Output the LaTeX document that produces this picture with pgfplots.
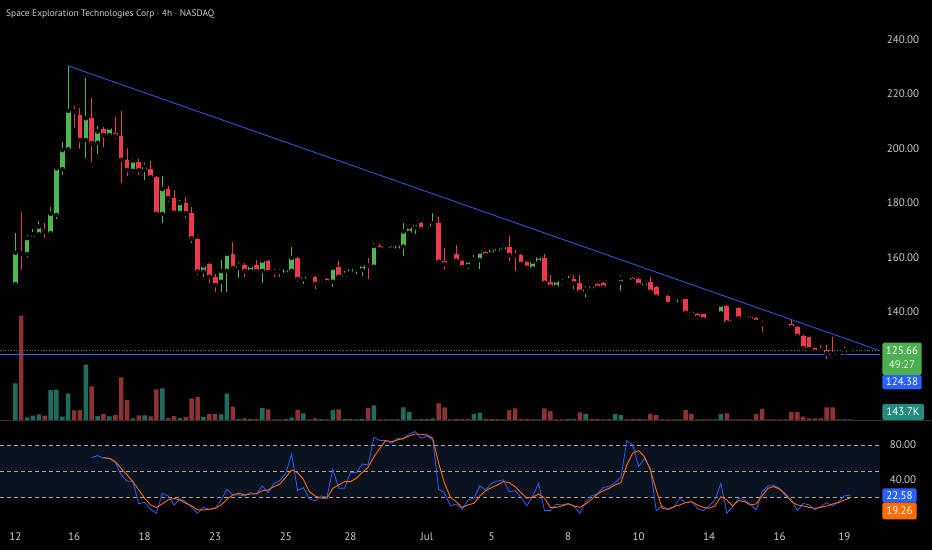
\documentclass[border=0pt]{standalone}
\usepackage{pgfplots}
\pgfplotsset{compat=1.18}
\usepackage{pgfplotstable}
\usepackage{fontspec}
\setmainfont{PT Sans}
\definecolor{upc}{RGB}{80,182,80}
\definecolor{dnc}{RGB}{238,58,72}
\definecolor{vupc}{RGB}{30,108,94}
\definecolor{vdnc}{RGB}{140,50,50}
\definecolor{trendc}{RGB}{45,85,215}
\definecolor{tickc}{RGB}{205,205,205}
\definecolor{bandc}{RGB}{11,19,32}
\definecolor{kc}{RGB}{41,98,255}
\definecolor{dc}{RGB}{255,109,0}
\definecolor{gbox}{RGB}{76,175,80}
\definecolor{bbox}{RGB}{41,98,255}
\definecolor{tbox}{RGB}{34,140,125}

\pgfplotstableread{
i o h l c
0 150.1 169.0 149.8 161.6
2 161.2 168.1 160.2 167.0
3 167.0 170.2 166.5 168.5
4 168.4 173.2 168.0 171.2
6 168.8 178.5 168.5 175.9
7 175.5 193.2 173.9 192.6
8 192.3 202.4 190.2 199.3
9 199.6 230.2 199.3 213.7
12 203.0 225.6 196.3 211.0
14 202.0 208.3 197.8 206.1
16 204.8 208.1 204.0 207.5
20 191.7 196.3 190.8 195.4
22 192.0 194.5 188.3 193.2
25 175.9 189.8 172.4 185.0
28 176.3 181.0 176.0 179.8
32 154.7 157.8 152.6 156.9
35 151.0 159.0 147.3 154.9
36 155.0 161.5 147.3 161.2
38 156.1 158.3 152.2 156.9
40 154.9 157.2 154.3 156.8
42 155.0 159.5 150.6 158.7
46 154.1 156.2 153.8 155.7
47 155.0 163.6 154.6 159.8
49 151.9 154.0 150.0 153.1
52 150.2 152.0 149.8 151.6
54 151.0 156.5 149.0 156.1
56 152.6 155.0 152.2 153.5
57 154.5 156.5 154.0 155.9
58 155.5 156.3 154.0 155.8
59 155.3 157.5 153.0 157.1
61 156.5 165.2 156.0 164.1
63 163.4 164.0 162.8 163.7
65 162.9 165.2 162.6 164.5
66 163.9 172.4 160.5 169.4
67 169.0 171.8 168.6 171.0
68 170.8 173.0 168.5 172.4
70 170.3 171.8 170.0 171.5
71 171.2 176.1 170.8 172.4
74 157.9 158.6 157.4 158.2
77 156.8 159.0 155.8 158.7
78 158.0 160.8 157.7 159.3
79 159.0 162.3 155.5 162.0
81 161.4 163.4 161.0 163.0
82 162.0 163.7 161.6 163.3
83 162.6 165.0 162.3 163.9
88 155.9 158.7 155.5 158.3
89 158.3 161.0 158.0 160.2
92 149.2 151.8 148.9 151.4
94 150.6 153.0 150.3 151.6
97 147.3 149.5 145.3 148.3
98 148.3 150.0 148.0 149.4
101 149.8 151.0 149.5 150.6
103 150.6 153.5 147.6 152.3
104 152.4 153.0 152.0 152.7
107 149.4 151.0 149.0 150.6
110 145.5 146.5 145.2 146.1
112 143.3 144.0 143.0 143.7
113 143.3 145.5 143.0 144.5
118 137.6 138.7 137.3 138.4
119 138.8 139.9 138.5 139.6
120 139.4 143.3 139.1 142.5
122 136.3 137.5 136.0 137.2
128 135.8 136.3 135.5 136.1
129 136.0 136.5 135.8 136.3
140 124.1 124.8 123.6 124.4
141 125.0 127.0 124.7 125.9
142 125.3 126.2 125.2 125.66
}\upcandles

\pgfplotstableread{
i o h l c
1 161.8 176.7 155.3 161.4
5 170.0 172.7 167.2 169.4
10 214.0 215.5 207.3 213.5
11 212.2 214.6 199.6 203.0
13 211.0 218.3 195.0 201.8
15 207.0 207.9 200.3 204.8
17 205.5 211.3 203.5 204.5
18 204.5 213.8 187.1 195.7
19 195.7 200.0 189.8 192.0
21 194.8 195.9 190.2 192.0
23 192.4 195.4 188.5 189.3
24 189.3 189.8 175.1 175.9
26 185.0 186.0 180.3 181.6
27 181.8 184.7 175.5 176.3
29 180.0 182.0 174.3 176.1
30 176.1 178.5 165.3 166.9
31 166.7 167.0 153.5 154.7
33 157.4 158.0 150.4 152.8
34 152.8 153.8 147.3 149.8
37 161.2 165.5 155.3 155.9
39 157.1 157.8 152.9 154.9
41 157.1 159.0 154.5 154.9
43 158.7 159.0 154.0 154.5
44 154.9 155.5 152.8 154.6
45 154.9 155.5 152.8 154.6
48 159.8 160.2 151.0 152.0
50 153.2 153.5 152.3 152.9
51 152.8 153.2 148.2 150.2
53 151.9 152.3 150.3 150.8
55 156.3 158.6 151.9 152.8
60 157.3 159.6 151.9 156.9
62 164.1 165.0 162.5 162.9
64 163.6 164.0 162.5 162.9
69 172.4 172.8 169.8 170.2
72 172.4 174.6 158.0 158.3
73 158.7 163.3 155.8 157.5
75 161.2 164.5 158.3 158.7
76 158.7 159.0 155.2 156.3
80 162.0 162.4 160.4 160.8
84 163.6 167.8 158.5 160.8
85 161.0 162.6 155.0 160.7
86 160.8 161.2 157.0 157.5
87 158.3 158.6 155.7 156.1
90 159.8 161.2 150.3 150.6
91 151.0 153.5 148.8 149.2
93 151.2 152.0 149.8 150.9
95 151.9 153.4 148.2 150.4
96 150.6 153.4 147.0 147.3
99 150.2 150.6 148.5 148.8
100 150.4 150.8 148.6 148.9
102 150.6 151.0 149.9 150.2
105 152.3 152.6 151.0 151.4
106 151.9 152.3 149.5 149.8
108 151.0 152.8 147.0 147.3
109 148.9 149.3 145.2 145.5
111 145.7 146.0 142.5 142.8
114 144.5 144.8 139.3 139.6
115 140.0 140.4 138.9 139.2
116 139.2 139.5 137.6 137.9
117 139.0 139.3 136.9 137.2
121 142.1 142.5 135.8 136.0
123 141.2 141.6 137.3 137.6
124 138.0 138.3 137.5 137.7
125 138.1 138.5 136.9 137.2
126 137.6 138.0 136.0 136.3
127 136.3 136.6 132.7 135.5
130 136.4 136.7 135.9 136.1
131 136.0 136.3 135.4 135.7
132 135.4 136.9 134.0 134.3
133 134.5 134.8 130.8 131.1
134 131.1 131.4 126.3 126.6
135 130.6 130.9 125.9 126.2
136 126.6 126.9 125.0 125.3
137 126.0 127.8 124.7 125.7
138 125.9 127.8 122.5 124.7
139 124.7 130.8 123.5 124.4
}\dncandles

\pgfplotstableread{
i v
0 3670
2 270
3 430
4 570
6 3000
7 3030
8 330
9 2630
12 5530
14 400
16 370
20 170
22 470
25 3170
28 200
32 300
35 570
36 2630
38 100
40 100
42 1200
46 100
47 230
49 670
52 100
54 1000
56 100
57 100
58 70
59 100
61 1470
63 70
65 70
66 1270
67 800
68 70
70 100
71 170
74 70
78 600
79 730
89 70
94 100
95 100
97 600
101 70
102 600
103 500
107 70
119 70
120 600
141 70
142 70
}\volup

\pgfplotstableread{
i v
1 10430
5 430
10 970
11 1000
13 3370
15 600
17 500
18 4270
19 2000
21 470
23 370
24 3070
26 200
27 400
29 300
30 2170
31 2300
33 600
34 600
37 1330
39 170
41 100
43 1070
44 70
45 70
48 1000
50 70
51 170
53 70
55 1070
60 1200
62 70
64 70
69 100
72 1670
73 1270
75 100
76 100
77 100
80 100
81 100
82 100
83 70
84 1000
85 1170
86 100
87 100
88 70
90 1170
91 900
92 70
93 70
96 770
98 100
99 100
100 70
104 70
105 100
106 100
108 600
109 500
110 70
111 70
112 70
113 70
114 1000
115 600
116 70
117 70
118 70
121 670
122 70
123 70
124 70
125 70
126 600
127 1130
128 70
129 70
130 70
131 70
132 800
133 800
134 330
135 170
136 170
137 170
138 1270
139 1270
140 70
}\voldn

\pgfplotstableread{
i k
13 65.5
14 67.8
15 64.7
16 64.7
17 60.1
18 45.6
19 38.7
20 38.0
21 12.4
22 14.3
23 6.2
24 1.7
25 24.6
26 21.5
27 11.2
28 18.1
29 15.0
30 8.2
31 1.7
32 8.5
33 6.2
34 7.4
35 16.9
36 29.2
37 22.7
38 22.7
39 21.5
40 25.3
41 23.8
42 33.0
43 25.3
44 36.0
45 39.1
46 47.5
47 69.7
48 27.6
49 31.1
50 18.1
51 15.8
52 21.5
53 20.0
54 52.1
55 30.3
56 30.3
57 48.3
58 48.3
59 58.2
60 57.1
61 88.8
62 85.0
63 85.0
64 81.9
65 87.6
66 86.5
67 92.6
68 95.3
69 87.6
70 90.3
71 85.7
72 29.2
73 25.3
74 10.1
75 12.4
76 6.2
77 16.9
78 18.9
79 33.0
80 28.4
81 36.0
82 38.7
83 39.9
84 26.5
85 27.6
86 20.0
87 10.1
88 21.5
89 36.0
90 4.7
91 4.7
92 12.0
93 11.2
94 13.1
95 10.1
96 1.7
97 15.0
98 21.5
99 23.8
100 31.5
101 32.2
102 36.8
103 42.9
104 85.0
105 80.0
106 55.2
107 64.7
108 53.2
109 4.7
110 10.1
111 6.2
112 8.5
113 18.9
114 13.9
115 15.0
116 7.4
117 4.7
118 10.1
119 16.9
120 36.0
121 1.7
122 9.3
123 18.9
124 16.9
125 12.4
126 5.5
127 26.5
128 33.0
129 33.4
130 30.3
131 21.5
132 17.7
133 4.7
134 13.1
135 11.2
136 5.5
137 9.3
138 13.9
139 10.1
140 15.0
141 21.5
142 22.58
}\stochk

\pgfplotstableread{
i d
15 65.5
16 64.7
17 60.9
18 53.2
19 45.6
20 38.0
21 28.4
22 18.9
23 11.2
24 8.2
25 12.4
26 16.9
27 18.9
28 16.9
29 13.1
30 10.1
31 5.5
32 5.5
33 6.2
34 7.4
35 11.2
36 17.7
37 22.7
38 24.6
39 22.7
40 23.8
41 23.8
42 27.6
43 28.4
44 32.2
45 35.3
46 42.9
47 51.3
48 48.3
49 40.6
50 26.5
51 21.5
52 18.9
53 18.9
54 30.3
55 34.1
56 38.0
57 38.0
58 41.8
59 48.3
60 54.4
61 66.6
62 76.2
63 85.0
64 83.8
65 85.7
66 87.6
67 90.3
68 92.6
69 92.2
70 91.5
71 87.6
72 59.0
73 36.0
74 20.0
75 15.0
76 8.5
77 11.2
78 13.1
79 21.5
80 27.6
81 31.1
82 34.1
83 38.0
84 36.8
85 32.2
86 25.3
87 18.9
88 20.0
89 23.8
90 18.9
91 8.5
92 8.5
93 10.1
94 12.4
95 10.1
96 8.5
97 12.4
98 17.7
99 23.8
100 27.6
101 30.3
102 34.1
103 36.8
104 57.1
105 70.4
106 73.5
107 66.6
108 51.3
109 28.4
110 7.4
111 6.2
112 9.3
113 11.2
114 13.9
115 15.0
116 11.2
117 8.5
118 7.4
119 10.1
120 20.8
121 16.9
122 10.1
123 16.2
124 15.0
125 11.2
126 12.4
127 21.5
128 30.3
129 32.2
130 29.2
131 23.8
132 15.0
133 11.2
134 10.1
135 8.5
136 7.4
137 8.5
138 10.1
139 12.4
140 13.9
141 16.9
142 19.26
}\stochd

\pgfplotsset{
  tvaxis/.style={
    scale only axis, width=880pt,
    xmin=-2.602, xmax=147.06,
    axis line style={draw=none},
    major tick length=0pt,
    tick style={draw=none},
    /pgf/number format/fixed,
    /pgf/number format/fixed zerofill,
    /pgf/number format/precision=2,
    /pgf/number format/assume math mode=true,
    yticklabel pos=right,
    yticklabel style={anchor=center, xshift=23pt, text=tickc, font=\fontsize{11}{13}\selectfont},
  },
}

\begin{document}
\begin{tikzpicture}[x=1pt,y=1pt]
\fill[black] (0,0) rectangle (932,550);

% ---------- volume ----------
\begin{axis}[tvaxis, at={(0pt,130pt)}, anchor=south west, height=120pt,
  ymin=0, ymax=12000, xtick=\empty, ytick=\empty, clip=true]
\addplot[ybar, bar width=4.5pt, bar shift=0pt, fill=vupc, draw=none] table[x=i,y=v] \volup;
\addplot[ybar, bar width=4.5pt, bar shift=0pt, fill=vdnc, draw=none] table[x=i,y=v] \voldn;
\end{axis}

% ---------- price ----------
\begin{axis}[tvaxis, at={(0pt,130pt)}, anchor=south west, height=420pt,
  ymin=100.26, ymax=254.39, xtick=\empty,
  ytick={140,160,180,200,220,240}, clip=true]
% wicks
\addplot[only marks, mark=none, error bars/.cd, y dir=both, y explicit, error mark=none,
  error bar style={line width=1pt, draw=upc}]
  table[x=i, y=c, y error plus expr=\thisrow{h}-\thisrow{c}, y error minus expr=\thisrow{c}-\thisrow{l}] \upcandles;
\addplot[only marks, mark=none, error bars/.cd, y dir=both, y explicit, error mark=none,
  error bar style={line width=1pt, draw=dnc}]
  table[x=i, y=c, y error plus expr=\thisrow{h}-\thisrow{c}, y error minus expr=\thisrow{c}-\thisrow{l}] \dncandles;
% bodies
\addplot[only marks, mark=none, error bars/.cd, y dir=plus, y explicit, error mark=none,
  error bar style={line width=4.6pt, draw=upc}]
  table[x=i, y=o, y error plus expr=\thisrow{c}-\thisrow{o}] \upcandles;
\addplot[only marks, mark=none, error bars/.cd, y dir=plus, y explicit, error mark=none,
  error bar style={line width=4.6pt, draw=dnc}]
  table[x=i, y=c, y error plus expr=\thisrow{o}-\thisrow{c}] \dncandles;
% lines
\addplot[trendc, line width=0.9pt] coordinates {(9,230.2) (147.06,125.7)};
\addplot[color=upc!80!black, dotted, line width=0.7pt] coordinates {(-2.6,125.66) (147.06,125.66)};
\addplot[color=kc, line width=0.9pt] coordinates {(-2.6,124.38) (147.06,124.38)};
\end{axis}

% ---------- stochastic ----------
\begin{axis}[tvaxis, at={(0pt,130pt)}, anchor=north west, height=102pt,
  ymin=-8.33, ymax=108.6, ytick={40,80},
  xtick={0,10,22,34,46,57,70,81,94,106,118,130,141},
  xticklabels={12,16,18,23,25,28,Jul,5,8,10,14,16,19},
  xticklabel style={anchor=center, yshift=-14.7pt, text=tickc, font=\fontsize{11}{13}\selectfont},
  clip=true]
\fill[bandc] (axis cs:-2.602,20) rectangle (axis cs:147.06,80);
\draw[gray!70, dashed, dash pattern=on 4pt off 3pt, line width=0.6pt] (axis cs:-2.602,80) -- (axis cs:147.06,80);
\draw[gray!70, dashed, dash pattern=on 4pt off 3pt, line width=0.6pt] (axis cs:-2.602,50) -- (axis cs:147.06,50);
\draw[gray!70, dashed, dash pattern=on 4pt off 3pt, line width=0.6pt] (axis cs:-2.602,20) -- (axis cs:147.06,20);
\addplot[color=kc, line width=0.8pt] table[x=i, y=k] \stochk;
\addplot[color=dc, line width=0.9pt] table[x=i, y=d] \stochd;
\end{axis}

% separator
\draw[color=black!80!white, line width=0.6pt] (0,129.5) -- (932,129.5);

% title
\node[anchor=west, text=tickc, font=\fontsize{9.4}{11}\selectfont, inner sep=0] at (6,536) {Space Exploration Technologies Corp · 4h · NASDAQ};

% right-side price labels
\fill[gbox, rounded corners=1.5pt] (882.3,175) rectangle (921.7,207.3);
\node[white, font=\fontsize{11}{13}\selectfont] at (902,199) {125.66};
\node[white!85!gbox, font=\fontsize{11}{13}\selectfont] at (902,185.7) {49:27};
\fill[bbox, rounded corners=1.5pt] (882.3,160.7) rectangle (921.7,175);
\node[white, font=\fontsize{11}{13}\selectfont] at (902,168.5) {124.38};
\fill[tbox, rounded corners=1.5pt] (882.3,130) rectangle (924,146);
\node[white, font=\fontsize{11}{13}\selectfont] at (903,138) {143.7K};
\fill[kc, rounded corners=1.5pt] (882.3,47.3) rectangle (916.7,61.7);
\node[white, font=\fontsize{11}{13}\selectfont] at (899.5,54.5) {22.58};
\fill[dc, rounded corners=1.5pt] (882.3,30.7) rectangle (916.7,47.3);
\node[white, font=\fontsize{11}{13}\selectfont] at (899.5,39) {19.26};

\pgfresetboundingbox
\path[use as bounding box] (0,0) rectangle (932,550);
\end{tikzpicture}
\end{document}
